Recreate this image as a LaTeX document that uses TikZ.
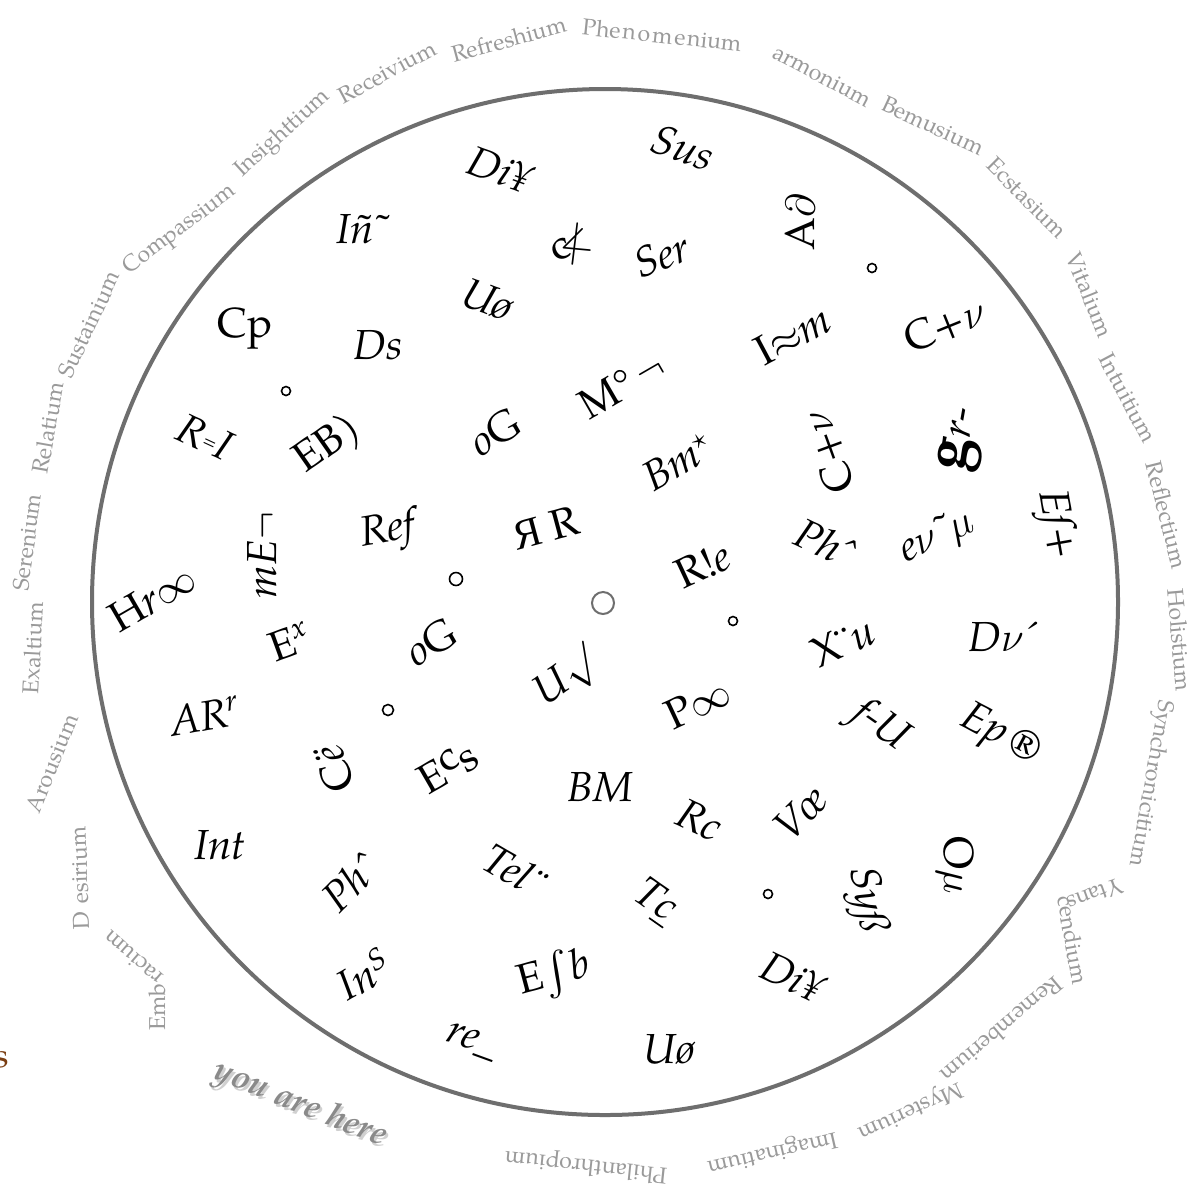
\documentclass[tikz,border=0pt]{standalone}
\usepackage{amssymb}
\usepackage{fontspec}
\setmainfont{texgyrepagella}[Extension=.otf,UprightFont=*-regular,ItalicFont=*-italic,BoldFont=*-bold,BoldItalicFont=*-bolditalic]
\newfontfamily\cyrfont{Liberation Serif}
\definecolor{circgrey}{HTML}{6E6E6E}
\definecolor{ringgrey}{HTML}{9A9A9A}
\definecolor{heregrey}{HTML}{8A8A8A}
\definecolor{shadowgrey}{HTML}{D0D0D0}
\definecolor{brownish}{HTML}{7A3E12}
\tikzset{
  lab/.style={font=\fontsize{21}{25}\selectfont, inner sep=0pt, text=black},
  ring/.style={font=\fontsize{11.5}{14}\selectfont, inner sep=0pt, text=ringgrey},
  smalldot/.style={circle, draw=black, line width=0.8pt, minimum size=4.5pt, inner sep=0pt},
}
\begin{document}
\begin{tikzpicture}[x=0.5pt,y=-0.5pt]
\useasboundingbox (0,0) rectangle (1197,1196);
\fill[white] (0,0) rectangle (1197,1196);
% main circle
\draw[circgrey, line width=2pt] (605,602) circle[radius=513];
% centre circle
\node[circle, draw=circgrey, line width=1pt, minimum size=11pt, inner sep=0pt] (centre) at (603,603) {};
% small dots
\node[smalldot] (d1) at (872,268) {};
\node[smalldot] (d2) at (286,391) {};
\node[smalldot, minimum size=6.5pt] (d3) at (456,579) {};
\node[smalldot] (d4) at (733,621) {};
\node[smalldot, minimum size=5.5pt] (d5) at (388,710) {};
\node[smalldot] (d6) at (768,894) {};
% inner labels
\node[lab, rotate=-20] (l1) at (500,170) {\itshape Di¥};
\node[lab, rotate=-20] (l2) at (683,148) {\itshape Sus};
\node[lab] (l3) at (362,229) {\itshape Iñ˜};
\node[lab, rotate=20] (l4) at (571,245) {c\kern-0.25em$\nless$};
\node[lab, rotate=20] (l5) at (662,255) {\itshape Ser};
\node[lab, rotate=90] (l6) at (800,222) {A$\partial$};
\node[lab, rotate=-20] (l7) at (488,300) {\itshape Uø};
\node[lab] (l8) at (245,328) {Cp};
\node[lab, rotate=28] (l9) at (793,335) {I$\approx$\textit{m}};
\node[lab, rotate=22] (l10) at (945,325) {C+$\nu$};
\node[lab] (l11) at (378,345) {\itshape Ds};
\node[lab, rotate=30] (l12) at (622,385) {M°\,$\neg$};
\node[lab, rotate=-25] (l13) at (205,437) {\textit{R}\raisebox{.15em}{\small=}\textit{I}};
\node[lab, rotate=35] (l14) at (328,445) {EB)};
\node[lab, rotate=30] (l15) at (495,432) {\textit{o}G};
\node[lab, rotate=30] (l16) at (678,462) {\itshape Bm$^{\star}$};
\node[lab, rotate=110] (l17) at (828,452) {C+$\nu$};
\node[lab, rotate=80] (l18) at (963,440) {{\fontsize{30}{32}\selectfont\bfseries g}\textit{r}-};
\node[lab, rotate=-80] (l19) at (1055,525) {\itshape Eſ+};
\node[lab, rotate=10] (l20) at (388,532) {\itshape Ref};
\node[lab, rotate=15] (l21) at (546,528) {{\cyrfont Я} R};
\node[lab, rotate=90] (l22) at (262,555) {\itshape mE$\neg$};
\node[lab, rotate=-25] (l23) at (825,543) {\itshape Phˆ};
\node[lab, rotate=25] (l24) at (937,537) {\itshape e$\nu$˜$\mu$};
\node[lab, rotate=30] (l25) at (152,598) {H\textit{r}$\infty$};
\node[lab, rotate=25] (l26) at (703,565) {R!\textit{e}};
\node[lab, rotate=20] (l27) at (290,642) {E\textsuperscript{\itshape x}};
\node[lab, rotate=30] (l28) at (431,642) {\textit{o}G};
\node[lab, rotate=25] (l29) at (843,642) {X¨\textit{u}};
\node[lab] (l30) at (1003,637) {\itshape D$\nu$´};
\node[lab, rotate=10] (l31) at (205,716) {\itshape AR\textsuperscript{r}};
\node[lab, rotate=35] (l32) at (567,678) {\textit{U}$\surd$};
\node[lab, rotate=25] (l33) at (698,703) {P$\infty$};
\node[lab, rotate=-35] (l34) at (880,727) {\itshape f-U};
\node[lab, rotate=-28] (l35) at (1000,737) {\itshape Ep\,{\upshape ®}};
\node[lab, rotate=110] (l36) at (334,769) {C\textit{ë}};
\node[lab, rotate=30] (l37) at (448,767) {E\raisebox{.25em}{c}s};
\node[lab] (l38) at (600,787) {\itshape BM};
\node[lab, rotate=-25] (l39) at (700,820) {\itshape Rc};
\node[lab, rotate=45] (l40) at (800,813) {\itshape Vœ};
\node[lab] (l41) at (220,845) {\itshape Int};
\node[lab, rotate=45] (l42) at (350,882) {\itshape Phˆ};
\node[lab, rotate=-30] (l43) at (515,870) {\itshape Tel¨};
\node[lab, rotate=-35] (l44) at (655,902) {\itshape T\underline{c}};
\node[lab, rotate=-80] (l45) at (866,900) {\itshape Syß};
\node[lab, rotate=-90] (l46) at (955,865) {O$\mu$};
\node[lab, rotate=30] (l47) at (363,974) {\itshape In\raisebox{.3em}{\fontsize{15}{17}\selectfont S}};
\node[lab, rotate=15] (l48) at (554,975) {E$\int$\textit{b}};
\node[lab, rotate=-25] (l49) at (793,977) {\itshape Di¥};
\node[lab, rotate=-20] (l50) at (472,1042) {\itshape re\_};
\node[lab] (l51) at (669,1049) {\itshape Uø};
% outer ring words
\node[ring, rotate=37] (r1) at (180,230) {Compassium};
\node[ring, rotate=65] (r2) at (89,324) {Sustainium};
\node[ring, rotate=80] (r3) at (48,428) {Relatium};
\node[ring, rotate=82] (r4) at (27,542) {Serenium};
\node[ring, rotate=87] (r5) at (33,648) {Exaltium};
\node[ring, rotate=68] (r6) at (52,763) {Arousium};
\node[ring, rotate=92] (r7) at (80,878) {D\hspace{4pt}esirium};
\node[ring, rotate=90] (r8) at (157,1007) {Emb};
\node[ring, rotate=139] (r9) at (133,958) {racium};
\node[ring, rotate=42] (r10) at (283,134) {Insighttium};
\node[ring, rotate=28] (r11) at (387,72) {Receivium};
\node[ring, rotate=15] (r12) at (509,39) {Refreshium};
\node[ring, rotate=-6] (r13) at (662,35) {Phe\hspace{1pt}n\hspace{1pt}o\hspace{1pt}m\hspace{1pt}e\hspace{1pt}nium};
\node[ring, rotate=-28] (r14) at (822,76) {armonium};
\node[ring, rotate=-25] (r15) at (933,126) {Bemusium};
\node[ring, rotate=-45] (r16) at (1027,198) {Ecstasium};
\node[ring, rotate=-68] (r17) at (1090,295) {Vitalium};
\node[ring, rotate=-62] (r18) at (1128,398) {Intuitium};
\node[ring, rotate=-76] (r19) at (1167,515) {Reflectium};
\node[ring, rotate=-85] (r20) at (1180,640) {Holistium};
\node[ring, rotate=-100] (r21) at (1150,783) {Synchronicitium};
\node[ring, rotate=-160] (r22) at (1095,895) {Ytans};
\node[ring, rotate=-80] (r23) at (1073,940) {cendium};
\node[ring, rotate=-140] (r24) at (1002,1030) {Rememberium};
\node[ring, rotate=-155] (r25) at (910,1110) {Mysterium};
\node[ring, rotate=-167] (r26) at (772,1152) {Imaginatium};
\node[ring, rotate=174] (r27) at (586,1165) {Philanthropium};
% you are here
\node[inner sep=0pt, rotate=-22, text=shadowgrey, font=\fontsize{17}{20}\selectfont\bfseries\itshape] (hereshadow) at (302,1108) {you are here};
\node[inner sep=0pt, rotate=-22, text=heregrey, font=\fontsize{17}{20}\selectfont\bfseries\itshape] (here) at (300,1105) {you are here};
% brown s at left edge
\node[inner sep=0pt, text=brownish, font=\fontsize{17}{20}\selectfont] (edge) at (2,1060) {s};
\end{tikzpicture}
\end{document}
